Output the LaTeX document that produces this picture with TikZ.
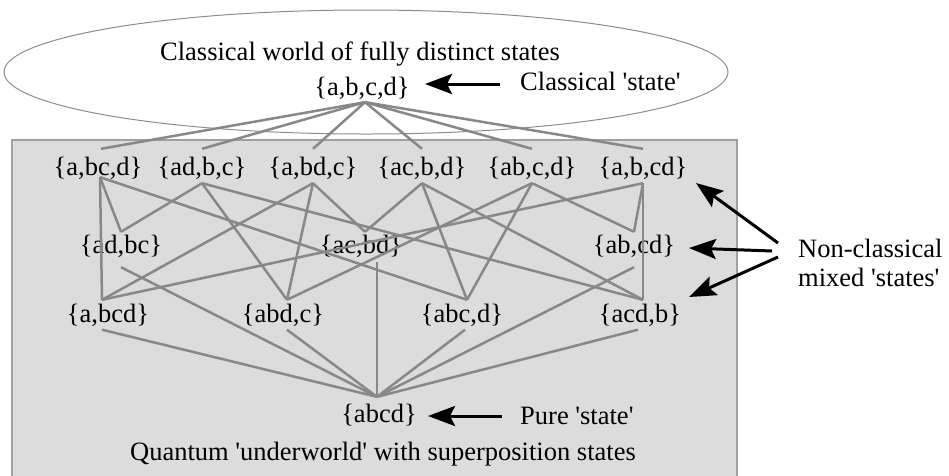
\documentclass[tikz,border=0pt]{standalone}
\usepackage{fontspec}
\setmainfont{Liberation Serif}[Ligatures=TeXOff]
\usetikzlibrary{arrows.meta}
\definecolor{edgegray}{HTML}{888888}
\definecolor{boxfill}{HTML}{DCDCDC}
\definecolor{boxline}{HTML}{A0A0A0}
\definecolor{ellline}{HTML}{8C8C8C}
\begin{document}
\begin{tikzpicture}[x=1pt,y=-1pt,
  txt/.style={font=\fontsize{26.5}{30}\selectfont, inner sep=0pt, anchor=base, text height=18pt, text depth=6pt},
  rowtop/.style={txt, text height=18pt, text depth=7pt},
  rowone/.style={txt, text height=26pt, text depth=8pt},
  rowtwo/.style={txt, text height=21.5pt, text depth=13.5pt},
  rowthree/.style={txt, text height=22pt, text depth=7.5pt},
  rowbot/.style={txt, text height=25pt, text depth=6pt},
  edge/.style={draw=edgegray, line width=2.5pt},
  arr/.style={draw=black, line width=3pt, -{Stealth[length=27pt,width=20pt,inset=5pt]}}]
\useasboundingbox (0,0) rectangle (949,475);
% regions
\path[fill=boxfill, draw=boxline, line width=1.5pt] (12,140) rectangle (737,478);
\draw[ellline, line width=1pt] (366,72) ellipse [x radius=362pt, y radius=62pt];
% nodes
\node[txt] (title) at (360,60.5) {Classical world of fully distinct states};
\node[rowtop] (top) at (362,95) {\{a,b,c,d\}};
\node[txt, anchor=base west] (clab) at (520,90) {Classical 'state'};
\node[rowone] (n1) at (98,175) {\{a,bc,d\}};
\node[rowone] (n2) at (202,175) {\{ad,b,c\}};
\node[rowone] (n3) at (313,175) {\{a,bd,c\}};
\node[rowone] (n4) at (422,175) {\{ac,b,d\}};
\node[rowone] (n5) at (532,175) {\{ab,c,d\}};
\node[rowone] (n6) at (643,175) {\{a,b,cd\}};
\node[rowtwo] (m1) at (121,253.5) {\{ad,bc\}};
\node[rowtwo] (m2) at (361,253.5) {\{ac,bd\}};
\node[rowtwo] (m3) at (634,253.5) {\{ab,cd\}};
\node[rowthree] (k1) at (108,322) {\{a,bcd\}};
\node[rowthree] (k2) at (283,322) {\{abd,c\}};
\node[rowthree] (k3) at (462,322) {\{abc,d\}};
\node[rowthree] (k4) at (640,322) {\{acd,b\}};
\node[rowbot] (bot) at (379,422) {\{abcd\}};
\node[txt, anchor=base west] (plab) at (520,424) {Pure 'state'};
\node[txt] (qlab) at (383,460.5) {Quantum 'underworld' with superposition states};
\node[txt, anchor=base west] (nc1) at (798,257.5) {Non-classical};
\node[txt, anchor=base west] (nc2) at (798,286) {mixed 'states'};
% anchor points
\coordinate (topS) at ([xshift=3pt]top.south);
\coordinate (n1N) at ([xshift=3pt]n1.north);
\coordinate (n1S) at ([xshift=2pt,yshift=6pt]n1.south);
\coordinate (m2N) at ([xshift=4pt]m2.north);
\coordinate (m2S) at ([xshift=16pt,yshift=5pt]m2.south);
\coordinate (k1N) at ([xshift=-6pt]k1.north);
\coordinate (k1S) at ([xshift=-6pt]k1.south);
\coordinate (k2N) at ([xshift=4pt]k2.north);
\coordinate (k2S) at ([xshift=4pt]k2.south);
\coordinate (k3N) at ([xshift=5pt]k3.north);
\coordinate (k3S) at ([xshift=3pt]k3.south);
\coordinate (k4N) at ([xshift=3pt]k4.north);
\coordinate (k4S) at ([xshift=-2pt]k4.south);
\coordinate (botN) at ([xshift=-2pt]bot.north);
% edges: top to row one
\draw[edge] (topS) -- (n1N);
\foreach \n in {n2,n3,n4,n5,n6} \draw[edge] (topS) -- (\n.north);
% row one to rows two and three
\draw[edge] (n1S) -- (m1.north);
\draw[edge] (n1S) -- (k1N);
\draw[edge] (n1S) -- (k3N);
\draw[edge] (n2.south) -- (m1.north);
\draw[edge] (n2.south) -- (k2N);
\draw[edge] (n2.south) -- (k4N);
\draw[edge] (n3.south) -- (m2N);
\draw[edge] (n3.south) -- (k1N);
\draw[edge] (n3.south) -- (k2N);
\draw[edge] (n4.south) -- (m2N);
\draw[edge] (n4.south) -- (k3N);
\draw[edge] (n4.south) -- (k4N);
\draw[edge] (n5.south) -- (m3.north);
\draw[edge] (n5.south) -- (k3N);
\draw[edge] (n5.south) -- (k2N);
\draw[edge] (n6.south) -- (m3.north);
\draw[edge] (n6.south) -- (k1N);
\draw[edge] (n6.south) -- (k4N);
% rows two and three to bottom
\draw[edge] (m1.south) -- (botN);
\draw[edge] (m2S) -- (botN);
\draw[edge] (m3.south) -- (botN);
\draw[edge] (k1S) -- (botN);
\draw[edge] (k2S) -- (botN);
\draw[edge] (k3S) -- (botN);
\draw[edge] (k4S) -- (botN);
% annotation arrows
\draw[arr] ([xshift=-20pt,yshift=6pt]clab.base west) -- ([xshift=63pt,yshift=11pt]top.base);
\draw[arr] ([xshift=-18pt,yshift=8pt]plab.base west) -- ([xshift=49pt,yshift=6pt]bot.base);
\draw[arr] ([xshift=-20pt,yshift=14.5pt]nc1.base west) -- ([xshift=53pt,yshift=-8pt]n6.base);
\draw[arr] ([xshift=-26pt,yshift=6.5pt]nc1.base west) -- ([xshift=55pt,yshift=5.5pt]m3.base);
\draw[arr] ([xshift=-20pt,yshift=0.5pt]nc1.base west) -- ([xshift=49pt,yshift=25pt]k4.base);
\end{tikzpicture}
\end{document}
